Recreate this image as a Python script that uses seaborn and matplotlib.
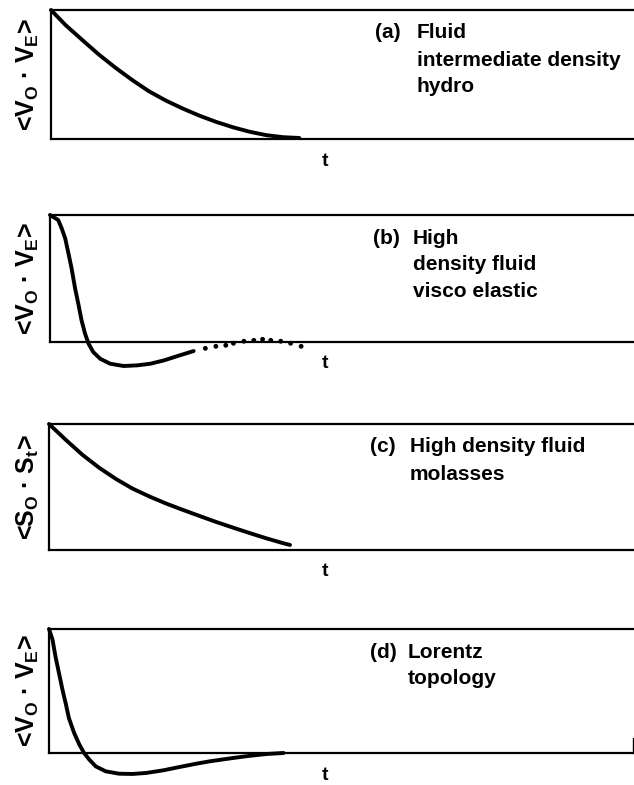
import matplotlib
matplotlib.use("Agg")
import matplotlib.pyplot as plt
import seaborn as sns
import pandas as pd

sns.set_style("white")
plt.rcParams['font.family'] = ['Liberation Sans', 'DejaVu Sans']
plt.rcParams['font.weight'] = 'bold'
plt.rcParams['text.color'] = 'black'
plt.rcParams['mathtext.fontset'] = 'custom'
plt.rcParams['mathtext.rm'] = 'Liberation Sans:bold'
plt.rcParams['mathtext.it'] = 'Liberation Sans:bold'
plt.rcParams['mathtext.bf'] = 'Liberation Sans:bold'

# ---- data (t in arbitrary units, correlation normalised to 1 at t=0) ----
t_a = [0.0, 0.25, 0.54, 0.82, 1.11, 1.40, 1.68, 1.97, 2.26, 2.54, 2.83, 3.12, 3.40, 3.69, 3.98, 4.26]
c_a = [1.0, 0.883, 0.766, 0.655, 0.551, 0.455, 0.370, 0.298, 0.236, 0.182, 0.133, 0.091, 0.057, 0.030, 0.014, 0.008]

t_b = [0.0, 0.14, 0.20, 0.26, 0.31, 0.37, 0.43, 0.49, 0.54, 0.60, 0.66, 0.74, 0.86, 1.03,
       1.26, 1.49, 1.72, 1.95, 2.18, 2.46]
c_b = [1.0, 0.961, 0.895, 0.816, 0.711, 0.579, 0.421, 0.289, 0.171, 0.066, -0.013, -0.079,
       -0.132, -0.171, -0.189, -0.184, -0.171, -0.145, -0.111, -0.071]
t_b_dots = [2.66, 2.84, 3.01, 3.14, 3.32, 3.49, 3.64, 3.78, 3.95, 4.12, 4.30]
c_b_dots = [-0.050, -0.034, -0.026, -0.010, 0.006, 0.013, 0.021, 0.013, 0.006, -0.010, -0.034]

t_c = [0.0, 0.29, 0.57, 0.86, 1.15, 1.43, 1.72, 2.00, 2.29, 2.58, 2.86, 3.15, 3.44, 3.72, 4.01, 4.12]
c_c = [1.0, 0.873, 0.756, 0.652, 0.562, 0.487, 0.424, 0.369, 0.318, 0.269, 0.222, 0.177, 0.133, 0.092, 0.053, 0.040]

t_d = [0.0, 0.06, 0.11, 0.17, 0.23, 0.29, 0.34, 0.43, 0.52, 0.60, 0.69, 0.80, 0.97, 1.20,
       1.43, 1.66, 1.95, 2.23, 2.52, 2.75, 3.15, 3.44, 3.72, 4.01]
c_d = [1.0, 0.914, 0.780, 0.645, 0.511, 0.390, 0.282, 0.161, 0.067, 0.0, -0.054, -0.108,
       -0.148, -0.167, -0.169, -0.161, -0.140, -0.113, -0.086, -0.067, -0.040, -0.022, -0.008, 0.0]

ylabels = [r"<V$_\mathregular{O}$ · V$_\mathregular{E}$>",
           r"<V$_\mathregular{O}$ · V$_\mathregular{E}$>",
           r"<S$_\mathregular{O}$ · S$_\mathregular{t}$>",
           r"<V$_\mathregular{O}$ · V$_\mathregular{E}$>"]
tags = ["(a)", "(b)", "(c)", "(d)"]
captions = [["Fluid", "intermediate density", "hydro"],
            ["High", "density fluid", "visco elastic"],
            ["High density fluid", "molasses"],
            ["Lorentz", "topology"]]
xlabel = "t"

W, H = 634, 785
fig = plt.figure(figsize=(W / 100, H / 100), dpi=100)

# axes boxes in pixels: left, top, bottom
boxes = [(51, 10, 139), (50, 215, 342), (49, 424, 550), (49, 629, 753)]
curves = [(t_a, c_a), (t_b, c_b), (t_c, c_c), (t_d, c_d)]
text_x = [(375, 417), (373, 413), (370, 410), (370, 408)]

for i, ((l, top, bot), (tt, cc)) in enumerate(zip(boxes, curves)):
    ax = fig.add_axes([l / W, 1 - bot / H, (W - l) / W, (bot - top) / H])
    df = pd.DataFrame({"t": tt, "c": cc})
    sns.lineplot(data=df, x="t", y="c", ax=ax, color="black", lw=2.8,
                 sort=False, clip_on=False, solid_joinstyle="round",
                 solid_capstyle="round")
    if i == 1:
        dd = pd.DataFrame({"t": t_b_dots, "c": c_b_dots})
        sns.scatterplot(data=dd, x="t", y="c", ax=ax, color="black", s=12,
                        edgecolor="none", clip_on=False)
    ax.set_xlim(0, 10)
    ax.set_ylim(0, 1)
    ax.set_xticks([])
    ax.set_yticks([])
    ax.set_xlabel("")
    ax.set_ylabel("")
    ax.patch.set_alpha(0)
    for s in ["left", "top", "bottom"]:
        ax.spines[s].set_visible(True)
        ax.spines[s].set_color("black")
        ax.spines[s].set_linewidth(1.6)
    ax.spines["right"].set_visible(False)
    if i == 3:
        ax.plot([9.985, 9.985], [0, 0.12], color="black", lw=1.0, clip_on=False)

    # y label
    fig.text(28 / W, 1 - ((top + bot) / 2) / H, ylabels[i], rotation=90,
             ha="center", va="center", fontsize=18, fontweight="bold",
             color="black")
    # x label
    fig.text(325 / W, 1 - (bot + 22) / H, xlabel, ha="center", va="center",
             fontsize=14, fontweight="bold", color="black")
    # caption
    tx, cx = text_x[i]
    y0 = top + 23
    fig.text(tx / W, 1 - y0 / H, tags[i], ha="left", va="center",
             fontsize=15, fontweight="bold", color="black")
    for k, line in enumerate(captions[i]):
        fig.text(cx / W, 1 - (y0 + 27 * k) / H, line, ha="left", va="center",
                 fontsize=15, fontweight="bold", color="black")

fig.savefig("out.png", dpi=100, facecolor="white")
